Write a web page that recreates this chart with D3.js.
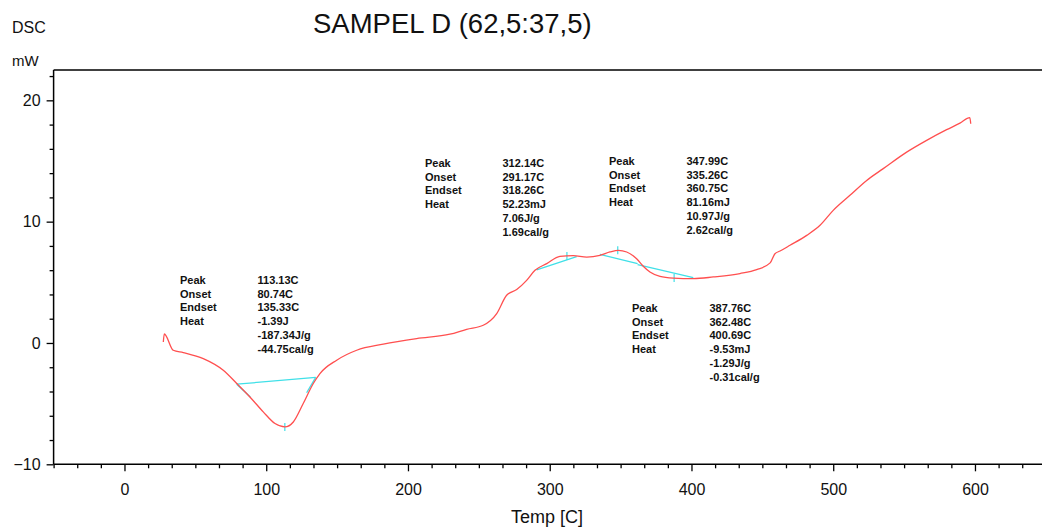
<!DOCTYPE html>
<html>
<head>
<meta charset="utf-8">
<script src="https://cdn.jsdelivr.net/npm/d3@7"></script>
<style>
  body { margin: 0; background: #fff; }
  svg { display: block; font-family: "Liberation Sans", Arial, sans-serif; }
  .ann { font-size: 11px; font-weight: bold; fill: #111; }
</style>
</head>
<body>
<svg id="chart" width="1042" height="530"></svg>
<script>
// DSC trace: temperature (C) and heat flow (mW)
const temps = [27.4, 28.1, 34.4, 41.5, 55.6, 69.7, 79.2, 88.5, 97.9, 106.2, 113.2, 119.1, 126.1, 133.2,
  137.9, 149.7, 163.8, 182.6, 206.1, 229.6, 241.4, 253.1, 262.6, 269.6, 276.7, 283.7, 289.6, 297.9,
  307.2, 316.6, 326.1, 335.4, 342.5, 348.4, 354.3, 361.3, 366.0, 370.7, 377.8, 387.2, 401.3, 415.4,
  434.2, 446.0, 455.5, 458.9, 462.5, 469.5, 481.3, 490.7, 500.0, 511.8, 523.6, 535.3, 551.8, 565.9,
  580.0, 589.4, 596.4, 597.0];
const dsc = [0.08, 0.74, -0.6, -0.79, -1.29, -2.25, -3.34, -4.45, -5.68, -6.64, -6.92, -6.51, -4.99, -3.34,
  -2.52, -1.42, -0.6, -0.1, 0.36, 0.72, 1.13, 1.46, 2.42, 3.93, 4.40, 5.16, 5.99, 6.54,
  7.14, 7.20, 7.08, 7.22, 7.50, 7.64, 7.50, 6.95, 6.32, 5.85, 5.49, 5.35, 5.30, 5.44,
  5.72, 6.05, 6.6, 7.36, 7.58, 8.05, 8.87, 9.70, 10.93, 12.17, 13.40, 14.37, 15.73, 16.70,
  17.58, 18.12, 18.57, 18.07];

// analysis construction lines (cyan): [t1, y1, t2, y2]
const baselines = [
  [79.2, -3.4, 134.9, -2.83],
  [79.2, -3.4, 88.8, -4.45],
  [134.9, -2.83, 128.5, -4.1],
  [290.8, 6.03, 319.0, 7.12],
  [335.4, 7.3, 362.0, 6.55],
  [362.0, 6.45, 401.3, 5.38]
];
const peakTicks = [[113.13, -6.92], [312.14, 7.17], [347.99, 7.64], [387.76, 5.35]];

const annLabels = ["Peak", "Onset", "Endset", "Heat"];
const annotations = [
  { x: 180, y: 284, vals: ["113.13C", "80.74C", "135.33C", "-1.39J", "-187.34J/g", "-44.75cal/g"] },
  { x: 425, y: 167, vals: ["312.14C", "291.17C", "318.26C", "52.23mJ", "7.06J/g", "1.69cal/g"] },
  { x: 609, y: 165, vals: ["347.99C", "335.26C", "360.75C", "81.16mJ", "10.97J/g", "2.62cal/g"] },
  { x: 632, y: 312, vals: ["387.76C", "362.48C", "400.69C", "-9.53mJ", "-1.29J/g", "-0.31cal/g"] }
];

const xMajor = [0, 100, 200, 300, 400, 500, 600];
const yMajor = [-10, 0, 10, 20];

const svg = d3.select("#chart");
const plotLeft = 53.6, plotTop = 70, plotBottom = 464.3;

const x = d3.scaleLinear().domain([-50, 650]).range([plotLeft, plotLeft + 700 * 1.4175]);
const y = d3.scaleLinear().domain([-10, 22.5]).range([plotBottom, plotTop]);

const xMinor = d3.range(-3, 40).map((k) => k * 100 / 6).filter((v) => !xMajor.some((m) => Math.abs(m - v) < 0.01));
const yMinor = d3.range(-10, 23, 2).filter((v) => !yMajor.includes(v));

// frame
svg.append("line").attr("x1", plotLeft).attr("x2", 1042).attr("y1", plotTop).attr("y2", plotTop)
  .attr("stroke", "#000").attr("stroke-width", 1.5);

const xAxis = svg.append("g").attr("transform", `translate(0,${plotBottom})`);
xAxis.append("g").call(d3.axisBottom(x).tickValues(xMajor).tickSize(7).tickPadding(12).tickFormat(d3.format("d")));
xAxis.append("g").call(d3.axisBottom(x).tickValues(xMinor).tickSize(4).tickFormat(""));
xAxis.selectAll(".domain").remove();
xAxis.append("line").attr("x1", plotLeft).attr("x2", 1042).attr("stroke", "#000").attr("stroke-width", 1.5);

const yAxis = svg.append("g").attr("transform", `translate(${plotLeft},0)`);
yAxis.append("g").call(d3.axisLeft(y).tickValues(yMajor).tickSize(7).tickPadding(6).tickFormat(d3.format("d")));
yAxis.append("g").call(d3.axisLeft(y).tickValues(yMinor).tickSize(4).tickFormat(""));
yAxis.selectAll(".domain").remove();
yAxis.append("line").attr("y1", plotTop).attr("y2", plotBottom).attr("stroke", "#000").attr("stroke-width", 1.5);

svg.selectAll(".tick line").attr("stroke", "#000").attr("stroke-width", 1.3);
svg.selectAll(".tick text").attr("font-size", 16).attr("fill", "#111").attr("font-family", "Liberation Sans, Arial, sans-serif");

// texts
svg.append("text").attr("x", 313).attr("y", 33).attr("font-size", 27.5).attr("fill", "#111")
  .text("SAMPEL D (62,5:37,5)");
svg.append("text").attr("x", 12).attr("y", 33).attr("font-size", 16).attr("fill", "#111").text("DSC");
svg.append("text").attr("x", 12).attr("y", 66).attr("font-size", 15).attr("fill", "#111").text("mW");
svg.append("text").attr("x", 547).attr("y", 523).attr("text-anchor", "middle").attr("font-size", 18)
  .attr("fill", "#111").text("Temp [C]");

// cyan analysis lines
svg.append("g").selectAll("line").data(baselines).join("line")
  .attr("x1", (d) => x(d[0])).attr("y1", (d) => y(d[1]))
  .attr("x2", (d) => x(d[2])).attr("y2", (d) => y(d[3]))
  .attr("stroke", "#40e0e8").attr("stroke-width", 1.3);
svg.append("g").selectAll("line").data(peakTicks).join("line")
  .attr("x1", (d) => x(d[0])).attr("x2", (d) => x(d[0]))
  .attr("y1", (d) => y(d[1]) - 4).attr("y2", (d) => y(d[1]) + 4)
  .attr("stroke", "#40e0e8").attr("stroke-width", 1.2);

// DSC curve
const line = d3.line().x((d, i) => x(temps[i])).y((d) => y(d)).curve(d3.curveMonotoneX);
svg.append("path").datum(dsc).attr("d", line)
  .attr("fill", "none").attr("stroke", "#ff4f4f").attr("stroke-width", 1.3);

// annotations
annotations.forEach((a) => {
  const g = svg.append("g").attr("class", "ann");
  annLabels.forEach((lab, i) => {
    g.append("text").attr("x", a.x).attr("y", a.y + i * 13.7).text(lab);
  });
  a.vals.forEach((v, i) => {
    g.append("text").attr("x", a.x + 77.5).attr("y", a.y + i * 13.7).text(v);
  });
});
</script>
</body>
</html>
